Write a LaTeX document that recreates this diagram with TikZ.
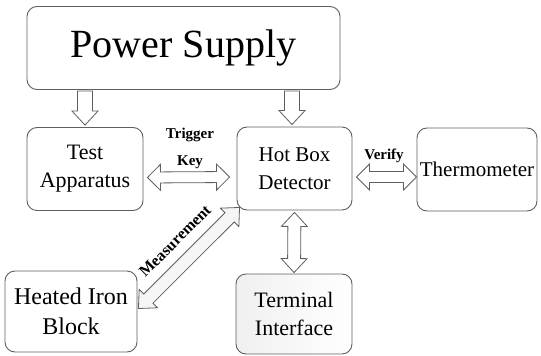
\documentclass[tikz,border=0pt]{standalone}
\usepackage{fontspec}
\setmainfont{Liberation Serif}
\usetikzlibrary{calc}

% block arrow sizes: head length, head half-width, shaft half-width
\def\ahl{13pt}
\def\ahw{13pt}
\def\asw{5.5pt}

% outlined double-headed block arrow from #2 to #3
\newcommand\dblarrow[3]{%
  \draw[#1] let \p1=(#2), \p2=(#3), \n1={atan2(\y2-\y1,\x2-\x1)} in
    (\p1) -- ($(\p1)+(\n1:\ahl)+(\n1+90:\ahw)$)
          -- ($(\p1)+(\n1:\ahl)+(\n1+90:\asw)$)
          -- ($(\p2)+(\n1:-\ahl)+(\n1+90:\asw)$)
          -- ($(\p2)+(\n1:-\ahl)+(\n1+90:\ahw)$)
          -- (\p2)
          -- ($(\p2)+(\n1:-\ahl)+(\n1-90:\ahw)$)
          -- ($(\p2)+(\n1:-\ahl)+(\n1-90:\asw)$)
          -- ($(\p1)+(\n1:\ahl)+(\n1-90:\asw)$)
          -- ($(\p1)+(\n1:\ahl)+(\n1-90:\ahw)$)
          -- cycle;}

% outlined single-headed block arrow from #2 to #3
\newcommand\sglarrow[3]{%
  \draw[#1] let \p1=(#2), \p2=(#3), \n1={atan2(\y2-\y1,\x2-\x1)} in
    ($(\p1)+(\n1+90:\asw)$)
          -- ($(\p2)+(\n1:-\ahl)+(\n1+90:\asw)$)
          -- ($(\p2)+(\n1:-\ahl)+(\n1+90:\ahw)$)
          -- (\p2)
          -- ($(\p2)+(\n1:-\ahl)+(\n1-90:\ahw)$)
          -- ($(\p2)+(\n1:-\ahl)+(\n1-90:\asw)$)
          -- ($(\p1)+(\n1-90:\asw)$)
          -- cycle;}

\definecolor{edge}{RGB}{95,95,95}

\begin{document}
\begin{tikzpicture}[x=1pt,y=-1pt,
  box/.style={draw=edge, line width=0.9pt, rounded corners=10pt, fill=white,
    align=center, inner sep=0pt, font=\fontsize{22}{28}\selectfont},
  blk/.style={draw=edge, line width=0.8pt, fill=white, line join=miter},
  lbl/.style={font=\bfseries\fontsize{15}{16}\selectfont, inner sep=0pt}]

\useasboundingbox (0,0) rectangle (541,356);

% blocks
\node[box, minimum width=313pt, minimum height=83pt,
      font=\fontsize{40}{44}\selectfont] (ps) at (183.5,48) {Power Supply};
\node[box, minimum width=116pt, minimum height=83pt] (ta) at (85,169) {Test\\Apparatus};
\node[box, minimum width=115pt, minimum height=83pt,
      font=\fontsize{21}{28}\selectfont] (hb) at (294.5,168.5) {Hot Box\\Detector};
\node[box, minimum width=120pt, minimum height=83pt,
      font=\fontsize{21}{28}\selectfont] (th) at (477,169.5) {Thermometer};
\node[box, minimum width=132pt, minimum height=81pt,
      font=\fontsize{24}{30}\selectfont] (hi) at (71,311.5) {Heated Iron\\Block};
\node[box, minimum width=116pt, minimum height=80pt,
      left color=black!6, right color=white] (ti) at (294,314) {Terminal\\Interface};

% power feeds
\def\asw{7.5pt}\def\ahl{14pt}
\sglarrow{blk}{$(ps.south -| ta.north)+(0,1)$}{$(ta.north)+(0,-2)$}
\sglarrow{blk}{$(ps.south -| hb.north)+(-2.5,1)$}{$(hb.north)+(-2.5,-2)$}

% signal links
\def\asw{5.5pt}\def\ahl{13pt}
\dblarrow{blk}{$(ta.east)+(4,8.5)$}{$(hb.west)+(-7,8.5)$}
\dblarrow{blk}{$(hb.east)+(4,8.5)$}{$(th.west)+(0,7.5)$}
\def\asw{6.5pt}\def\ahl{14pt}
\dblarrow{blk}{$(hb.south)+(0,2)$}{$(ti.north)+(0,-1)$}
\dblarrow{blk, fill=black!4}{$(hi.east)+(1,-3)$}{$(hb.south west)+(3,-3)$}

% link labels
\node[lbl] (trig) at (190,135) {Trigger};
\node[lbl] (key) at (190,162) {Key};
\node[lbl] (ver) at (384,156) {Verify};
\node[lbl, rotate=45, font=\bfseries\fontsize{16}{17}\selectfont] (meas) at (175,241) {Measurement};

\end{tikzpicture}
\end{document}
